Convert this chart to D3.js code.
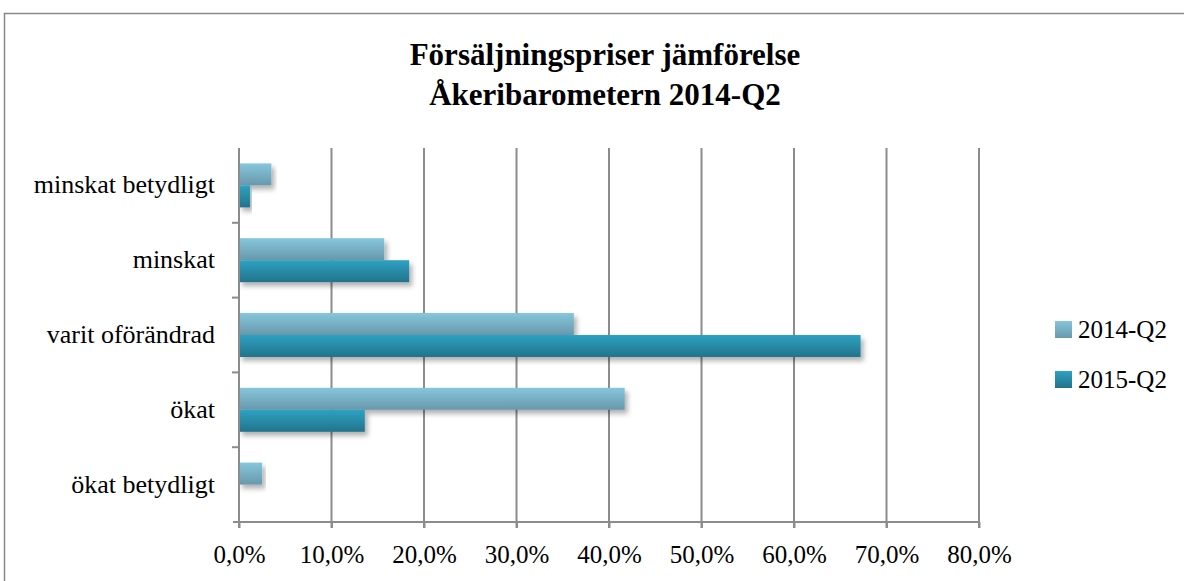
<!DOCTYPE html>
<html>
<head>
<meta charset="utf-8">
<script src="https://cdn.jsdelivr.net/npm/d3@7"></script>
<style>
  body { margin: 0; background: #fff; }
  svg text { font-family: "Liberation Serif", "DejaVu Serif", serif; fill: #000; }
</style>
</head>
<body>
<div id="chart"></div>
<script>
const categories = ['minskat betydligt', 'minskat', 'varit oförändrad', 'ökat', 'ökat betydligt'];
const seriesNames = ['2014-Q2', '2015-Q2'];
const values2014 = [3.5, 15.7, 36.2, 41.7, 2.5];
const values2015 = [1.2, 18.4, 67.2, 13.6, 0];
const xTicks = [0, 10, 20, 30, 40, 50, 60, 70, 80];

const width = 1184, height = 581;
const margin = {left: 239, right: 205, top: 148, bottom: 59};

const svg = d3.select('#chart').append('svg')
    .attr('width', width)
    .attr('height', height);

const defs = svg.append('defs');
const grads = [
  {id: 'g2014', top: '#86c6dc', bottom: '#6898ac'},
  {id: 'g2015', top: '#2ea2c2', bottom: '#22738b'}
];
grads.forEach(g => {
  const lg = defs.append('linearGradient').attr('id', g.id)
      .attr('x1', 0).attr('y1', 0).attr('x2', 0).attr('y2', 1);
  lg.append('stop').attr('offset', '0%').attr('stop-color', g.top);
  lg.append('stop').attr('offset', '100%').attr('stop-color', g.bottom);
});
const f = defs.append('filter').attr('id', 'shadow')
    .attr('x', '-5%').attr('y', '-20%').attr('width', '120%').attr('height', '160%');
f.append('feDropShadow').attr('dx', 3).attr('dy', 4).attr('stdDeviation', 2.5)
    .attr('flood-color', '#000').attr('flood-opacity', 0.3);

// outer frame
svg.append('rect')
    .attr('x', 4.5).attr('y', 13.5)
    .attr('width', 1200).attr('height', 600)
    .attr('fill', 'none').attr('stroke', '#888').attr('stroke-width', 1.5);

const x = d3.scaleLinear().domain([0, 80]).range([margin.left, 979]);
const y = d3.scaleBand().domain(categories).range([margin.top, height - margin.bottom]);
const inner = d3.scaleBand().domain(seriesNames)
    .range([0, 44]);
const pad = (y.bandwidth() - 44) / 2;

// gridlines
svg.append('g').selectAll('line').data(xTicks.slice(1)).enter().append('line')
    .attr('x1', d => x(d)).attr('x2', d => x(d))
    .attr('y1', margin.top).attr('y2', height - margin.bottom + 6)
    .attr('stroke', '#8c8c8c').attr('stroke-width', 2);

// bars
const rows = categories.map((c, i) => ({cat: c, vals: [values2014[i], values2015[i]]}));
const groups = svg.append('g').selectAll('g').data(rows).enter().append('g')
    .attr('transform', d => `translate(0,${y(d.cat) + pad})`);
groups.selectAll('rect').data(d => d.vals.map((v, j) => ({s: seriesNames[j], v, j})))
    .enter().filter(d => d.v > 0).append('rect')
    .attr('x', x(0))
    .attr('y', d => inner(d.s))
    .attr('width', d => x(d.v) - x(0))
    .attr('height', inner.bandwidth())
    .attr('fill', d => `url(#${grads[d.j].id})`)
    .attr('filter', 'url(#shadow)');

// x axis
const xAxis = svg.append('g')
    .attr('transform', `translate(0,${height - margin.bottom})`)
    .call(d3.axisBottom(x).tickValues(xTicks).tickSize(6)
        .tickFormat(d => d.toFixed(1).replace('.', ',') + '%'));
xAxis.select('.domain').attr('stroke', '#8c8c8c').attr('stroke-width', 2)
    .attr('d', `M${x(0) - 6},0H${x(80)}`);
xAxis.selectAll('.tick line').attr('stroke', '#8c8c8c').attr('stroke-width', 2);
xAxis.selectAll('.tick text').attr('font-size', 25).attr('dy', 0).attr('y', 41)
    .attr('font-family', '"Liberation Serif", serif').attr('fill', '#000');

// y axis
const yAxis = svg.append('g')
    .attr('transform', `translate(${x(0)},0)`);
yAxis.append('line')
    .attr('x1', 0).attr('x2', 0).attr('y1', margin.top).attr('y2', height - margin.bottom + 6)
    .attr('stroke', '#8c8c8c').attr('stroke-width', 2);
yAxis.selectAll('.yt').data(categories.slice(1)).enter().append('line')
    .attr('x1', -7).attr('x2', 0)
    .attr('y1', d => y(d)).attr('y2', d => y(d))
    .attr('stroke', '#8c8c8c').attr('stroke-width', 2);
yAxis.selectAll('text').data(categories).enter().append('text')
    .attr('x', -24)
    .attr('y', d => y(d) + y.bandwidth() / 2 + 8)
    .attr('text-anchor', 'end')
    .attr('font-size', 26)
    .text(d => d);

// title
const title = svg.append('text').attr('text-anchor', 'middle')
    .attr('font-size', 31).attr('font-weight', 'bold');
title.append('tspan').attr('x', 605).attr('y', 65).text('Försäljningspriser jämförelse');
title.append('tspan').attr('x', 605).attr('y', 105).text('Åkeribarometern 2014-Q2');

// legend
const legend = svg.append('g').selectAll('g').data(seriesNames).enter().append('g')
    .attr('transform', (d, i) => `translate(1055,${321 + i * 50})`);
legend.append('rect').attr('width', 17).attr('height', 17)
    .attr('fill', (d, i) => `url(#${grads[i].id})`);
legend.append('text').attr('x', 23).attr('y', 17).attr('font-size', 25).text(d => d);
</script>
</body>
</html>
